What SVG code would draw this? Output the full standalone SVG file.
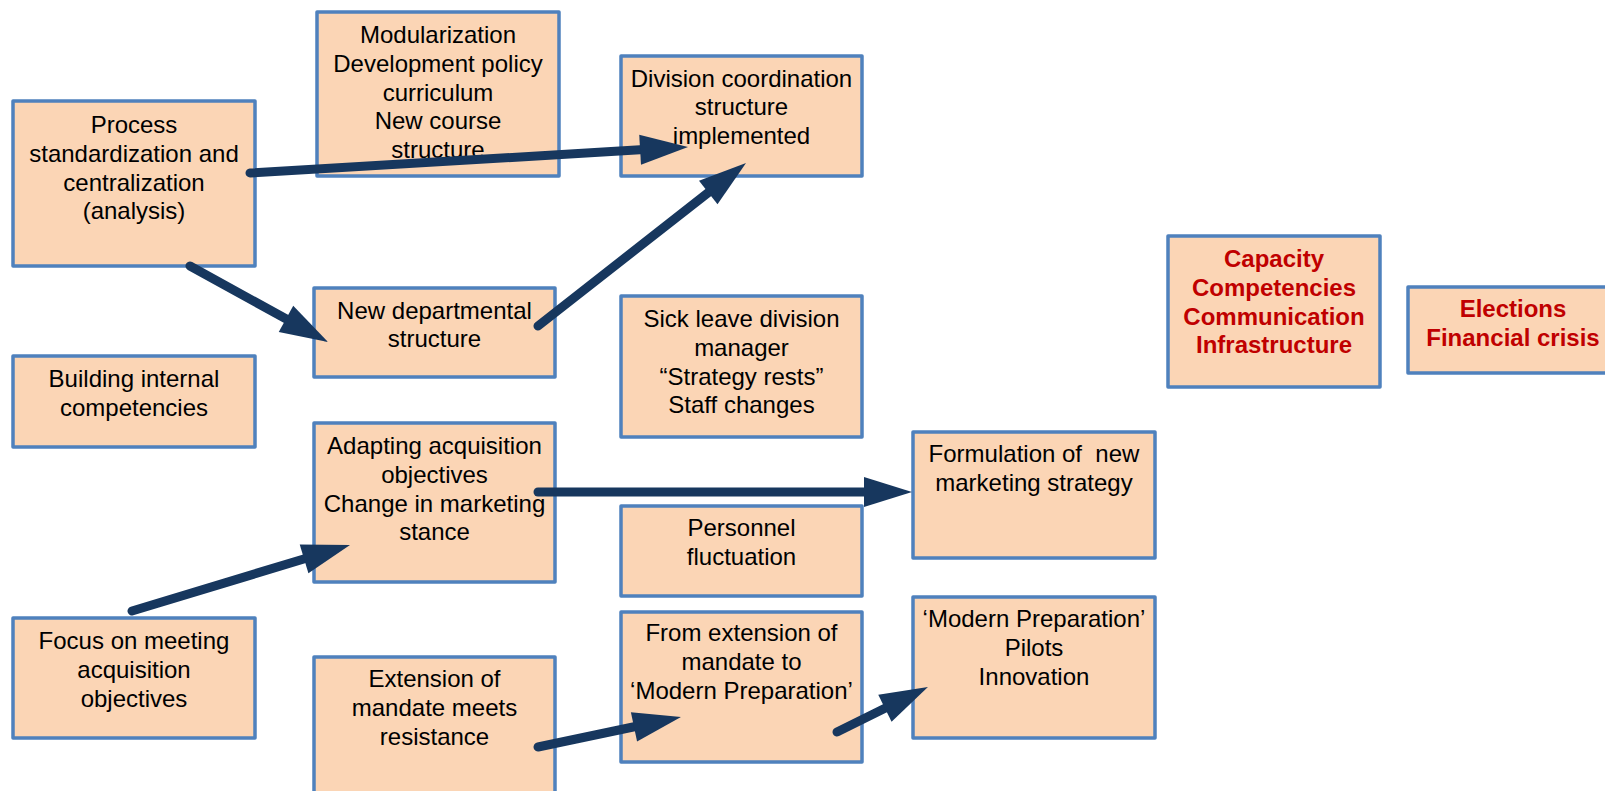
<svg xmlns="http://www.w3.org/2000/svg" width="1605" height="791" viewBox="0 0 1605 791">
<style>
.box{fill:#FBD5B5;stroke:#4F81BD;stroke-width:3.5;stroke-linejoin:round}
.t{font-family:"Liberation Sans",Arial,sans-serif;font-size:24px;fill:#000;text-anchor:middle}
.r{font-family:"Liberation Sans",Arial,sans-serif;font-size:24px;font-weight:bold;fill:#C00000;text-anchor:middle}
.c{stroke:#17375E;stroke-width:9;stroke-linecap:round;fill:none;marker-end:url(#ah)}
</style>
<defs>
<marker id="ah" markerUnits="userSpaceOnUse" markerWidth="48" markerHeight="30" refX="4" refY="15" orient="auto" overflow="visible">
<path d="M0,0 L48,15 L0,30 z" fill="#17375E"/>
</marker>
</defs>
<rect width="1605" height="791" fill="#fff"/>
<g id="n-process"><rect class="box" x="13" y="101" width="242" height="165"/>
<text class="t" x="134" y="133">Process</text><text class="t" x="134" y="161.8">standardization and</text><text class="t" x="134" y="190.6">centralization</text><text class="t" x="134" y="219.4">(analysis)</text></g>
<g id="n-modular"><rect class="box" x="317" y="12" width="242" height="164"/>
<text class="t" x="438" y="43">Modularization</text><text class="t" x="438" y="71.8">Development policy</text><text class="t" x="438" y="100.6">curriculum</text><text class="t" x="438" y="129.4">New course</text><text class="t" x="438" y="158.2">structure</text></g>
<g id="n-division"><rect class="box" x="621" y="56" width="241" height="120"/>
<text class="t" x="741.5" y="86.5">Division coordination</text><text class="t" x="741.5" y="115.3">structure</text><text class="t" x="741.5" y="144.1">implemented</text></g>
<g id="n-newdept"><rect class="box" x="314" y="288" width="241" height="89"/>
<text class="t" x="434.5" y="318.5">New departmental</text><text class="t" x="434.5" y="347.3">structure</text></g>
<g id="n-building"><rect class="box" x="13" y="356" width="242" height="91"/>
<text class="t" x="134" y="387">Building internal</text><text class="t" x="134" y="415.8">competencies</text></g>
<g id="n-sick"><rect class="box" x="621" y="296" width="241" height="141"/>
<text class="t" x="741.5" y="327">Sick leave division</text><text class="t" x="741.5" y="355.8">manager</text><text class="t" x="741.5" y="384.6">“Strategy rests”</text><text class="t" x="741.5" y="413.4">Staff changes</text></g>
<g id="n-adapting"><rect class="box" x="314" y="423" width="241" height="159"/>
<text class="t" x="434.5" y="454">Adapting acquisition</text><text class="t" x="434.5" y="482.8">objectives</text><text class="t" x="434.5" y="511.6">Change in marketing</text><text class="t" x="434.5" y="540.4">stance</text></g>
<g id="n-formulation"><rect class="box" x="913" y="432" width="242" height="126"/>
<text class="t" x="1034" y="462" xml:space="preserve">Formulation of  new</text><text class="t" x="1034" y="490.8">marketing strategy</text></g>
<g id="n-personnel"><rect class="box" x="621" y="506" width="241" height="90"/>
<text class="t" x="741.5" y="536">Personnel</text><text class="t" x="741.5" y="564.8">fluctuation</text></g>
<g id="n-focus"><rect class="box" x="13" y="618" width="242" height="120"/>
<text class="t" x="134" y="649">Focus on meeting</text><text class="t" x="134" y="677.8">acquisition</text><text class="t" x="134" y="706.6">objectives</text></g>
<g id="n-extension"><rect class="box" x="314" y="657" width="241" height="150"/>
<text class="t" x="434.5" y="687">Extension of</text><text class="t" x="434.5" y="715.8">mandate meets</text><text class="t" x="434.5" y="744.6">resistance</text></g>
<g id="n-fromext"><rect class="box" x="621" y="612" width="241" height="150"/>
<text class="t" x="741.5" y="641">From extension of</text><text class="t" x="741.5" y="669.8">mandate to</text><text class="t" x="741.5" y="698.6">‘Modern Preparation’</text></g>
<g id="n-modern"><rect class="box" x="913" y="597" width="242" height="141"/>
<text class="t" x="1034" y="627">‘Modern Preparation’</text><text class="t" x="1034" y="655.8">Pilots</text><text class="t" x="1034" y="684.6">Innovation</text></g>
<g id="n-capacity"><rect class="box" x="1168" y="236" width="212" height="151"/>
<text class="r" x="1274" y="267">Capacity</text><text class="r" x="1274" y="295.8">Competencies</text><text class="r" x="1274" y="324.6">Communication</text><text class="r" x="1274" y="353.4">Infrastructure</text></g>
<g id="n-elections"><rect class="box" x="1408" y="287" width="212" height="86"/>
<text class="r" x="1513" y="317">Elections</text><text class="r" x="1513" y="345.8">Financial crisis</text></g>
<g id="connectors">
<line class="c" x1="250" y1="173" x2="644.1" y2="149.6"/>
<line class="c" x1="190" y1="266" x2="289.5" y2="320.8"/>
<line class="c" x1="538" y1="326" x2="711.4" y2="190.1"/>
<line class="c" x1="132" y1="611" x2="307.9" y2="557.7"/>
<line class="c" x1="538" y1="492" x2="868" y2="492"/>
<line class="c" x1="538" y1="747" x2="637.9" y2="726"/>
<line class="c" x1="837" y1="732" x2="888.5" y2="706.5"/>
</g>
</svg>
